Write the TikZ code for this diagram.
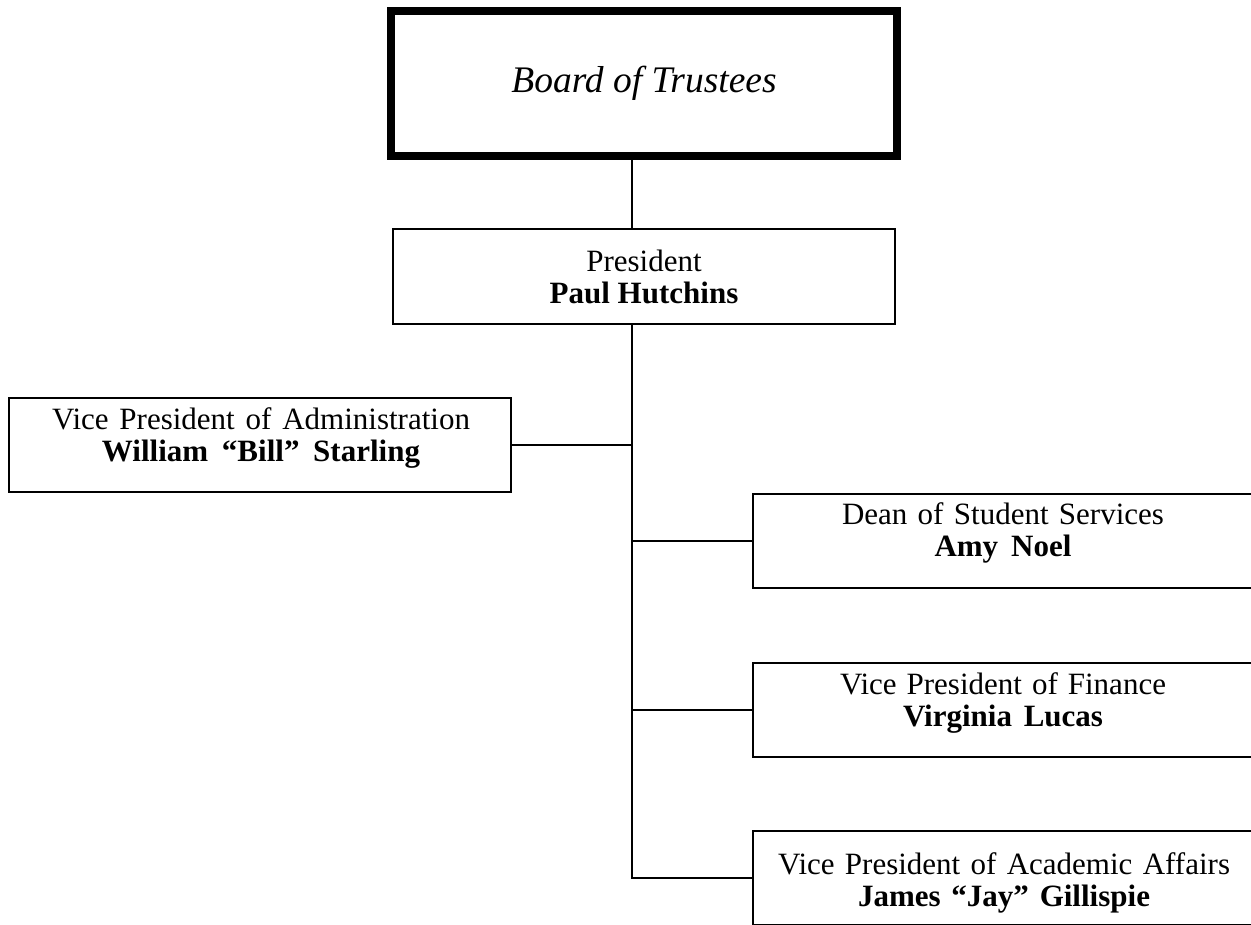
\documentclass[tikz,border=0pt]{standalone}
\usepackage{fontspec}
\setmainfont{Liberation Serif}
\usetikzlibrary{calc}
% a line of text set to a given width by widening its word spaces
\newcommand{\spreadline}[2]{\makebox[#1][s]{#2}}
\begin{document}
\begin{tikzpicture}[x=1pt,y=-1pt,
  box/.style={draw=black,line width=1.8pt,rectangle,inner sep=0pt,outer sep=0pt,
    minimum width=502pt,minimum height=94pt},
  topbox/.style={draw=black,line width=8pt,rectangle,inner sep=0pt,outer sep=0pt,
    minimum width=506pt,minimum height=145pt},
  lbl/.style={align=center,inner sep=0pt,font=\fontsize{31}{32}\selectfont},
  toplbl/.style={inner sep=0pt,font=\fontsize{37.5}{42}\selectfont\itshape},
  link/.style={draw=black,line width=1.8pt}]
\useasboundingbox (0,0) rectangle (1251,925);
\fill[white] (0,0) rectangle (1251,925);

% boxes
\node[topbox] (board) at (644,83.5) {};
\node[box,minimum height=95pt] (pres) at (644,276.5) {};
\node[box] (admin) at (260,445) {};
\node[box] (dean) at (1004,541) {};
\node[box] (fin) at (1004,710) {};
\node[box] (acad) at (1004,878) {};

% titles and names
\node[toplbl] (board-t) at (board.center) {Board of Trustees};
\node[lbl] (pres-t) at (pres.center) {President\\\textbf{Paul Hutchins}};
\node[lbl] (admin-t) at ($(admin.center)+(1,-7)$)
  {\spreadline{418pt}{Vice President of Administration}\\
   \spreadline{318pt}{\textbf{William “Bill” Starling}}};
\node[lbl] (dean-t) at ($(dean.center)+(-1,-8)$)
  {\spreadline{322pt}{Dean of Student Services}\\
   \spreadline{137pt}{\textbf{Amy Noel}}};
\node[lbl] (fin-t) at ($(fin.center)+(-1,-7)$)
  {\spreadline{326pt}{Vice President of Finance}\\
   \spreadline{200pt}{\textbf{Virginia Lucas}}};
\node[lbl] (acad-t) at ($(acad.center)+(0,5)$)
  {\spreadline{452pt}{Vice President of Academic Affairs}\\
   \spreadline{292pt}{\textbf{James “Jay” Gillispie}}};

% reporting lines
\coordinate (trunk) at (632,0);
\draw[link] (board.south -| trunk) -- (pres.north -| trunk);
\draw[link] (pres.south -| trunk) |- (acad.west);
\draw[link] (admin.east) -- (admin.east -| trunk);
\draw[link] (dean.west) -- (dean.west -| trunk);
\draw[link] (fin.west) -- (fin.west -| trunk);
\end{tikzpicture}
\end{document}
